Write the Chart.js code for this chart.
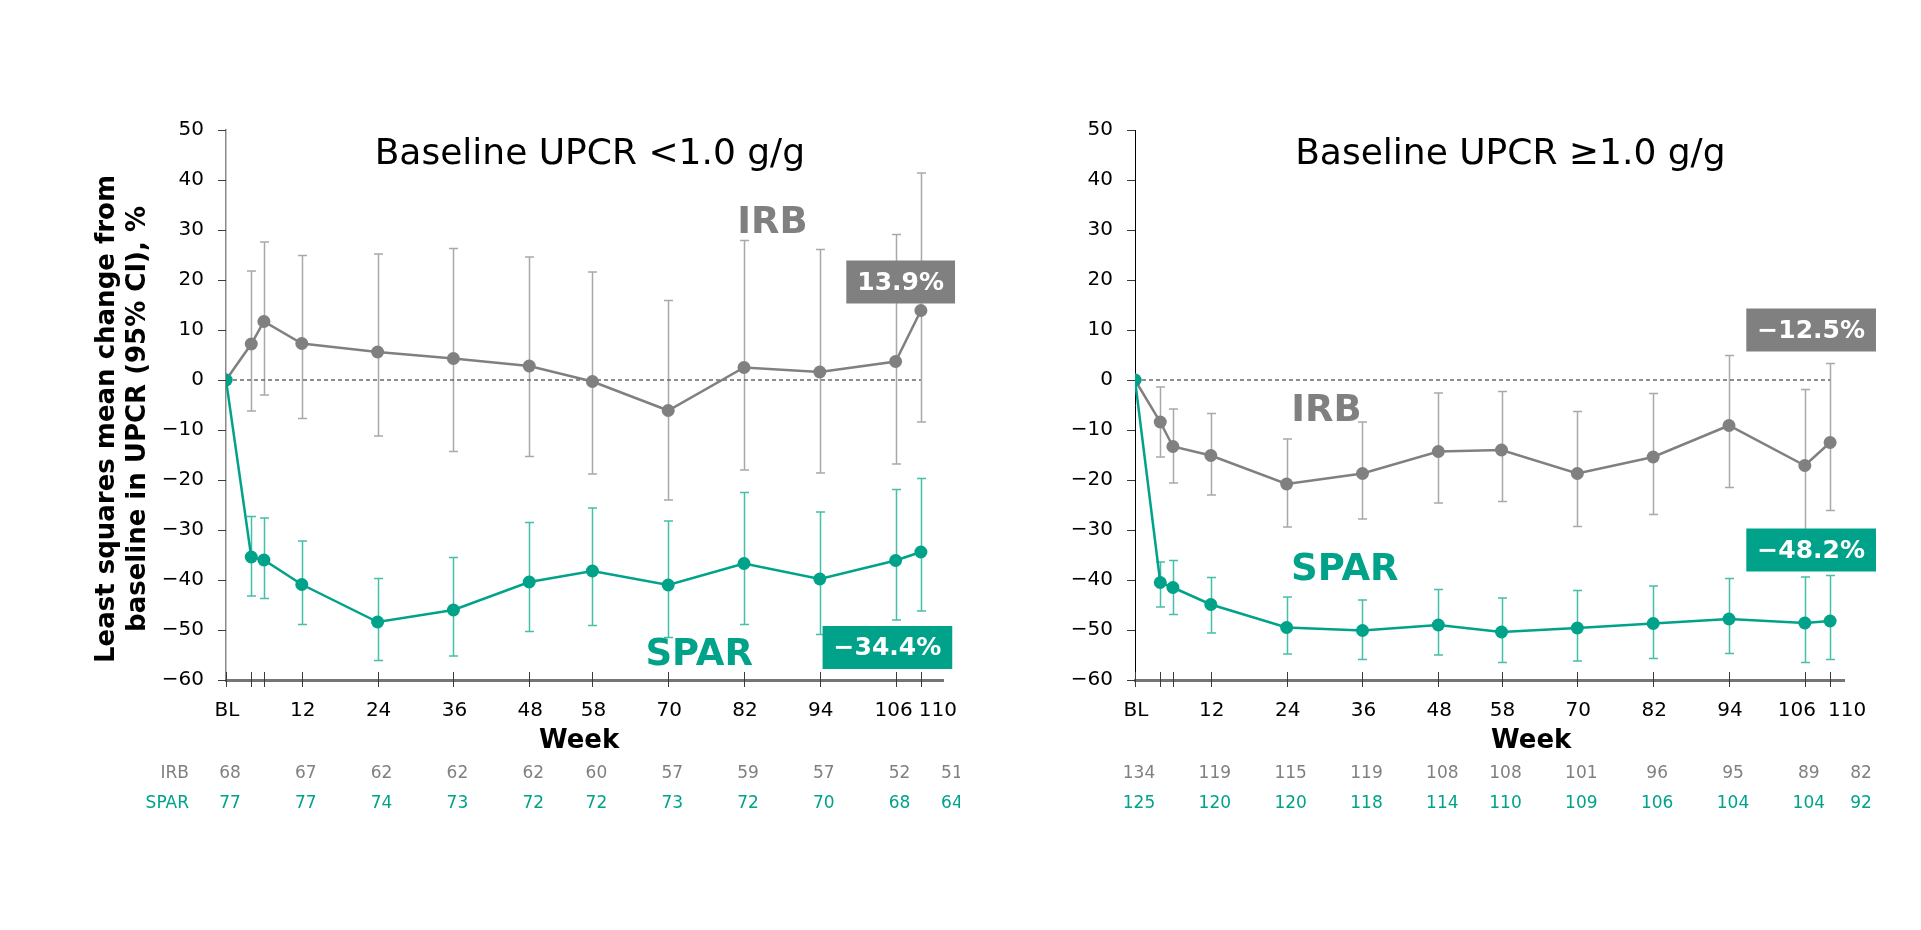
<!DOCTYPE html>
<html><head><meta charset="utf-8">
<script src="https://cdn.jsdelivr.net/npm/chart.js@4.4.1/dist/chart.umd.min.js"></script>
<style>
html,body{margin:0;padding:0;background:#fff;}
body{width:1921px;height:930px;overflow:hidden;position:relative;}
canvas{position:absolute;top:0;}
</style>
</head><body>
<canvas id="c1" width="960" height="930" style="left:0;width:960px;height:930px"></canvas>
<canvas id="c2" width="961" height="930" style="left:960px;width:961px;height:930px"></canvas>
<script>
// ---------- DATA ----------
const weeks = [0, 4, 6, 12, 24, 36, 48, 58, 70, 82, 94, 106, 110];
const tickWeeks = [0, 4, 6, 12, 24, 36, 48, 58, 70, 82, 94, 106, 110];
const tickLabels = ['BL', '', '', '12', '24', '36', '48', '58', '70', '82', '94', '106', '110'];
const yTickValues = [-60, -50, -40, -30, -20, -10, 0, 10, 20, 30, 40, 50];

// Baseline UPCR <1.0 g/g
const lowIrbMean = [0, 7.2, 11.7, 7.3, 5.6, 4.3, 2.8, -0.3, -6.1, 2.5, 1.6, 3.7, 13.9];
const lowIrbLo   = [null, -6.2, -3.0, -7.7, -11.2, -14.3, -15.3, -18.8, -24.0, -18.0, -18.6, -16.8, -8.4];
const lowIrbHi   = [null, 21.8, 27.6, 24.9, 25.2, 26.3, 24.6, 21.6, 15.9, 27.9, 26.1, 29.1, 41.4];
const lowSparMean = [0, -35.4, -36.0, -40.9, -48.4, -46.0, -40.4, -38.2, -41.0, -36.7, -39.8, -36.1, -34.4];
const lowSparLo   = [null, -43.2, -43.7, -48.9, -56.1, -55.2, -50.3, -49.1, -51.5, -48.9, -50.9, -48.0, -46.2];
const lowSparHi   = [null, -27.3, -27.6, -32.2, -39.7, -35.5, -28.5, -25.6, -28.2, -22.5, -26.4, -21.9, -19.7];

// Baseline UPCR >=1.0 g/g
const highIrbMean = [0, -8.4, -13.3, -15.1, -20.8, -18.7, -14.3, -14.0, -18.7, -15.4, -9.1, -17.1, -12.5];
const highIrbLo   = [null, -15.4, -20.6, -23.0, -29.4, -27.8, -24.6, -24.3, -29.3, -26.9, -21.5, -30.4, -26.1];
const highIrbHi   = [null, -1.4, -5.8, -6.7, -11.8, -8.4, -2.6, -2.3, -6.3, -2.7, 4.9, -1.9, 3.3];
const highSparMean = [0, -40.5, -41.5, -44.9, -49.5, -50.1, -49.0, -50.4, -49.6, -48.7, -47.8, -48.6, -48.2];
const highSparLo   = [null, -45.4, -46.9, -50.6, -54.8, -55.9, -55.0, -56.5, -56.2, -55.7, -54.7, -56.5, -55.9];
const highSparHi   = [null, -36.4, -36.1, -39.5, -43.4, -44.0, -41.9, -43.6, -42.1, -41.2, -39.7, -39.4, -39.1];

// Number of patients
const tableWeeks = [0, 12, 24, 36, 48, 58, 70, 82, 94, 106, 110];
const lowIrbN  = [68, 67, 62, 62, 62, 60, 57, 59, 57, 52, 51];
const lowSparN = [77, 77, 74, 73, 72, 72, 73, 72, 70, 68, 64];
const highIrbN  = [134, 119, 115, 119, 108, 108, 101, 96, 95, 89, 82];
const highSparN = [125, 120, 120, 118, 114, 110, 109, 106, 104, 104, 92];

const titles = ['Baseline UPCR <1.0 g/g', 'Baseline UPCR \u22651.0 g/g'];
const lowFinal = ['13.9%', '\u221234.4%'];
const highFinal = ['\u221212.5%', '\u221248.2%'];

// ---------- STYLE ----------
const GREY = '#808080', GREY_ERR = '#a9a9a9';
const TEAL = '#00a389', TEAL_ERR = '#45bfa9';
const TICK = '#3a3a3a';
const FONT = "'DejaVu Sans', Verdana, sans-serif";
const minus = v => v < 0 ? '\u2212' + Math.abs(v) : String(v);
const pts = (m) => weeks.map((w, i) => ({x: w, y: m[i]}));

const errorBars = {
  id: 'errorBars',
  beforeDatasetsDraw(chart, args, opts) {
    const {ctx, scales: {x, y}} = chart;
    opts.bars.forEach(b => {
      ctx.save();
      ctx.strokeStyle = b.color; ctx.lineWidth = 1.5;
      weeks.forEach((w, i) => {
        if (b.lo[i] == null) return;
        const px = Math.round(x.getPixelForValue(w)) + 0.5;
        const y1 = y.getPixelForValue(b.lo[i]), y2 = y.getPixelForValue(b.hi[i]);
        ctx.beginPath();
        ctx.moveTo(px, y1); ctx.lineTo(px, y2);
        ctx.moveTo(px - 4.5, y1); ctx.lineTo(px + 4.5, y1);
        ctx.moveTo(px - 4.5, y2); ctx.lineTo(px + 4.5, y2);
        ctx.stroke();
      });
      ctx.restore();
    });
  }
};

const axisMarks = {
  id: 'axisMarks',
  afterDraw(chart, args, o) {
    const {ctx, scales: {x, y}, chartArea: ca} = chart;
    ctx.save();
    ctx.strokeStyle = TICK; ctx.lineWidth = 1;
    // y ticks: outward only
    y.ticks.forEach(t => {
      const py = Math.round(y.getPixelForValue(t.value)) + 0.5;
      ctx.beginPath(); ctx.moveTo(ca.left - 8, py); ctx.lineTo(ca.left, py); ctx.stroke();
    });
    // x ticks: crossing the axis
    x.ticks.forEach(t => {
      const px = Math.round(x.getPixelForValue(t.value)) + 0.5;
      ctx.beginPath(); ctx.moveTo(px, ca.bottom - 8); ctx.lineTo(px, ca.bottom + 7); ctx.stroke();
    });
    // x tick labels
    ctx.fillStyle = '#000'; ctx.textAlign = 'center'; ctx.textBaseline = 'middle';
    ctx.font = `20px ${FONT}`;
    x.ticks.forEach(t => {
      const i = tickWeeks.indexOf(t.value);
      const lbl = tickLabels[i];
      if (!lbl) return;
      let px = x.getPixelForValue(t.value) + 1;
      if (t.value === 106) px += o.shift106;
      if (t.value === 110) px += 16;
      ctx.fillText(lbl, px, ca.bottom + 31);
    });
    ctx.restore();
  }
};

const decorations = {
  id: 'decorations',
  afterDatasetsDraw(chart, args, o) {
    const {ctx, chartArea: ca, scales: {x, y}} = chart;
    ctx.save();
    ctx.textBaseline = 'middle';
    // title
    ctx.fillStyle = '#000'; ctx.textAlign = 'center';
    ctx.font = `36px ${FONT}`;
    ctx.fillText(o.title, x.getPixelForValue(o.titleWeek), ca.top + 25);
    // Week label
    ctx.font = `bold 26px ${FONT}`;
    ctx.fillText('Week', x.getPixelForValue(o.weekLabelAt), ca.bottom + 61);
    // series labels
    o.labels.forEach(l => {
      ctx.font = `bold 37px ${FONT}`;
      ctx.fillStyle = l.color;
      ctx.fillText(l.text, x.getPixelForValue(l.week), y.getPixelForValue(l.value));
    });
    // value boxes
    o.boxes.forEach(b => {
      ctx.font = `bold 25px ${FONT}`;
      const w = ctx.measureText(b.text).width + 22, h = 43;
      const cx = x.getPixelForValue(b.week), cy = y.getPixelForValue(b.value);
      ctx.fillStyle = b.color;
      ctx.fillRect(cx - w / 2, cy - h / 2, w, h);
      ctx.fillStyle = '#fff';
      ctx.fillText(b.text, cx, cy + 1);
    });
    // table of n
    ctx.font = `17px ${FONT}`;
    o.rows.forEach((r, ri) => {
      const ty = ca.bottom + 94 + ri * 30;
      ctx.fillStyle = r.color;
      if (o.rowLabels) { ctx.textAlign = 'right'; ctx.fillText(r.label, ca.left - 37, ty); }
      ctx.textAlign = 'center';
      tableWeeks.forEach((w, i) => {
        let px = x.getPixelForValue(w) + 4;
        if (i === tableWeeks.length - 1) px += 27;
        ctx.fillText(String(r.n[i]), px, ty);
      });
    });
    // y-axis title
    if (o.yTitle) {
      ctx.save();
      ctx.translate(0, 419);
      ctx.rotate(-Math.PI / 2);
      ctx.fillStyle = '#000'; ctx.textAlign = 'center';
      ctx.font = `bold 26px ${FONT}`;
      ctx.fillText('Least squares mean change from', 0, 107);
      ctx.fillText('baseline in UPCR (95% CI), %', 0, 138);
      ctx.restore();
    }
    ctx.restore();
  }
};

function makeChart(id, d) {
  return new Chart(document.getElementById(id), {
    type: 'line',
    data: {
      datasets: [
        {data: pts(d.spar), borderColor: TEAL, backgroundColor: TEAL, borderWidth: 2.5,
         pointRadius: 6.5, pointBorderWidth: 0, pointBackgroundColor: TEAL, order: 1},
        {data: pts(d.irb), borderColor: GREY, backgroundColor: GREY, borderWidth: 2.5,
         pointRadius: 6.5, pointBorderWidth: 0, pointBackgroundColor: GREY, order: 2},
        {data: [{x: 0, y: 0}, {x: 110, y: 0}], borderColor: '#6a6a6a', borderWidth: 1.5,
         borderDash: [4, 3], pointRadius: 0, order: 3}
      ]
    },
    options: {
      responsive: false, animation: false, devicePixelRatio: 1,
      layout: {padding: d.padding},
      plugins: {
        legend: {display: false}, tooltip: {enabled: false},
        errorBars: {bars: [
          {lo: d.irbLo, hi: d.irbHi, color: GREY_ERR},
          {lo: d.sparLo, hi: d.sparHi, color: TEAL_ERR}
        ]},
        axisMarks: {shift106: d.shift106},
        decorations: d.deco
      },
      scales: {
        x: {
          type: 'linear', min: 0, max: d.xmax,
          afterBuildTicks: s => { s.ticks = tickWeeks.map(v => ({value: v})); },
          afterFit: s => { s.height = 90; },
          ticks: {display: false, autoSkip: false, maxRotation: 0},
          grid: {drawOnChartArea: false, drawTicks: false},
          border: {color: '#767676', width: 3, z: 1}
        },
        y: {
          min: -60, max: 50,
          afterBuildTicks: s => { s.ticks = yTickValues.map(v => ({value: v})); },
          afterFit: s => { s.width = 100; },
          ticks: {color: '#000', padding: 22, font: {family: FONT, size: 20},
                  callback: v => minus(v)},
          grid: {drawOnChartArea: false, drawTicks: false},
          border: {color: d.yAxisColor, width: d.yAxisWidth}
        }
      }
    },
    plugins: [errorBars, axisMarks, decorations]
  });
}

makeChart('c1', {
  irb: lowIrbMean, irbLo: lowIrbLo, irbHi: lowIrbHi,
  spar: lowSparMean, sparLo: lowSparLo, sparHi: lowSparHi,
  xmax: 113.5, yAxisColor: '#8a8a8a', yAxisWidth: 1.5, shift106: -3,
  padding: {left: 126, top: 130, right: 17, bottom: 160},
  deco: {
    title: titles[0], titleWeek: 57.6, weekLabelAt: 55.9, yTitle: true, rowLabels: true,
    labels: [{text: 'IRB', week: 86.5, value: 31.3, color: GREY},
             {text: 'SPAR', week: 74.9, value: -55.1, color: TEAL}],
    boxes: [{text: lowFinal[0], week: 106.8, value: 19.6, color: GREY},
            {text: lowFinal[1], week: 104.7, value: -53.5, color: TEAL}],
    rows: [{label: 'IRB', n: lowIrbN, color: GREY}, {label: 'SPAR', n: lowSparN, color: TEAL}]
  }
});

makeChart('c2', {
  irb: highIrbMean, irbLo: highIrbLo, irbHi: highIrbHi,
  spar: highSparMean, sparLo: highSparLo, sparHi: highSparHi,
  xmax: 112.2, yAxisColor: '#000', yAxisWidth: 1, shift106: -9,
  padding: {left: 75, top: 130, right: 77, bottom: 160},
  deco: {
    title: titles[1], titleWeek: 59.4, weekLabelAt: 62.7, yTitle: false, rowLabels: false,
    labels: [{text: 'IRB', week: 30.3, value: -6.2, color: GREY},
             {text: 'SPAR', week: 33.2, value: -38.0, color: TEAL}],
    boxes: [{text: highFinal[0], week: 107, value: 10.0, color: GREY},
            {text: highFinal[1], week: 107, value: -34.0, color: TEAL}],
    rows: [{label: 'IRB', n: highIrbN, color: GREY}, {label: 'SPAR', n: highSparN, color: TEAL}]
  }
});
</script>
</body></html>
